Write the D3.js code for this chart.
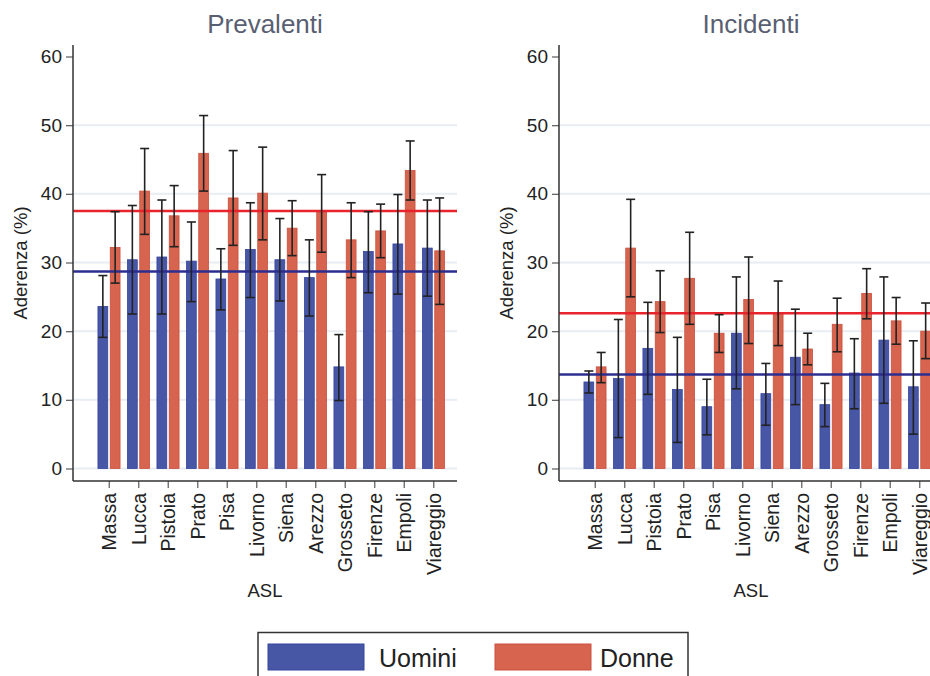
<!DOCTYPE html>
<html>
<head>
<meta charset="utf-8">
<script src="https://cdn.jsdelivr.net/npm/d3@7"></script>
<style>
	body { margin: 0; background: #fff; }
	svg { font-family: "Liberation Sans", Arial, Helvetica, sans-serif; }
</style>
</head>
<body>
<div id="chart"></div>
<script>
(function () {
	'use strict';

	var categories = ["Massa", "Lucca", "Pistoia", "Prato", "Pisa", "Livorno", "Siena", "Arezzo", "Grosseto", "Firenze", "Empoli", "Viareggio"];
	var yTicks = [0, 10, 20, 30, 40, 50, 60];
	var seriesNames = ["Uomini", "Donne"];

	// Prevalenti
	var prevUomini = [23.6, 30.4, 30.8, 30.2, 27.6, 31.9, 30.4, 27.8, 14.8, 31.6, 32.7, 32.1];
	var prevUominiLo = [19.1, 22.5, 22.5, 24.3, 23.1, 24.9, 24.4, 22.2, 9.9, 25.6, 25.4, 25.1];
	var prevUominiHi = [28.1, 38.3, 39.1, 35.9, 32.0, 38.7, 36.4, 33.3, 19.5, 37.4, 39.9, 39.1];
	var prevDonne = [32.2, 40.4, 36.8, 45.9, 39.4, 40.1, 35.0, 37.3, 33.3, 34.6, 43.4, 31.7];
	var prevDonneLo = [27.0, 34.1, 32.3, 40.4, 32.5, 33.3, 31.0, 31.5, 27.8, 30.7, 39.1, 23.9];
	var prevDonneHi = [37.4, 46.6, 41.2, 51.4, 46.3, 46.8, 39.0, 42.8, 38.7, 38.5, 47.7, 39.4];
	var prevRef = [28.7, 37.5];

	// Incidenti
	var incUomini = [12.6, 13.1, 17.5, 11.5, 9.0, 19.7, 10.9, 16.2, 9.3, 13.9, 18.7, 11.9];
	var incUominiLo = [11.0, 4.5, 10.8, 3.8, 4.9, 11.6, 6.3, 9.3, 6.1, 8.7, 9.5, 5.0];
	var incUominiHi = [14.2, 21.7, 24.2, 19.1, 13.0, 27.9, 15.3, 23.2, 12.4, 18.9, 27.9, 18.6];
	var incDonne = [14.8, 32.1, 24.3, 27.7, 19.7, 24.6, 22.7, 17.4, 21.0, 25.5, 21.5, 20.0];
	var incDonneLo = [12.5, 25.0, 19.8, 21.0, 16.9, 18.2, 17.9, 15.1, 17.0, 21.8, 18.1, 16.0];
	var incDonneHi = [16.9, 39.2, 28.8, 34.4, 22.4, 30.8, 27.3, 19.7, 24.8, 29.1, 24.9, 24.1];
	var incRef = [13.7, 22.6];

	var colors = { fill: ["#4856a6", "#d6644f"], stroke: ["#34449e", "#cc4e3c"], ref: ["#2b2e90", "#e8232b"] };

	var width = 930, height = 676;
	var svg = d3.select("#chart").append("svg")
		.attr("width", width)
		.attr("height", height);

	var y = d3.scaleLinear().domain([0, 60]).range([468.5, 56.5]);

	function panel(title, offset, vals, refs) {
		var x0 = 73 + offset, x1 = 457 + offset;
		var g = svg.append("g");

		var x = d3.scaleBand()
			.domain(categories)
			.range([x0 + 21.5, x0 + 21.5 + 12 * 29.5]);

		// gridlines
		g.selectAll("line.grid")
			.data(yTicks.filter(function (t) { return t < 60; }))
			.enter().append("line")
			.attr("x1", x0).attr("x2", x1)
			.attr("y1", function (d) { return y(d); })
			.attr("y2", function (d) { return y(d); })
			.attr("stroke", "#e7edf3")
			.attr("stroke-width", 2);

		// bars
		[0, 1].forEach(function (s) {
			g.selectAll("rect.s" + s)
				.data(vals[s].v)
				.enter().append("rect")
				.attr("x", function (d, i) { return x(categories[i]) + x.bandwidth() / 2 + (s === 0 ? -11.3 : 1); })
				.attr("width", 9.8)
				.attr("y", function (d) { return y(d); })
				.attr("height", function (d) { return y(0) - y(d); })
				.attr("fill", colors.fill[s])
				.attr("stroke", colors.stroke[s])
				.attr("stroke-width", 0.8);
		});

		// reference lines
		g.selectAll("line.ref")
			.data(refs)
			.enter().append("line")
			.attr("x1", x0).attr("x2", x1)
			.attr("y1", function (d) { return y(d); })
			.attr("y2", function (d) { return y(d); })
			.attr("stroke", function (d, i) { return colors.ref[i]; })
			.attr("stroke-width", 2.5);

		// error bars
		[0, 1].forEach(function (s) {
			var cx = function (i) { return x(categories[i]) + x.bandwidth() / 2 + (s === 0 ? -6.4 : 5.9); };
			var eg = g.selectAll("g.err" + s)
				.data(vals[s].v)
				.enter().append("g")
				.attr("stroke", "#222")
				.attr("stroke-width", 1.6);
			eg.append("line")
				.attr("x1", function (d, i) { return cx(i); })
				.attr("x2", function (d, i) { return cx(i); })
				.attr("y1", function (d, i) { return y(vals[s].lo[i]); })
				.attr("y2", function (d, i) { return y(vals[s].hi[i]); });
			[vals[s].lo, vals[s].hi].forEach(function (arr) {
				eg.append("line")
					.attr("x1", function (d, i) { return cx(i) - 4.5; })
					.attr("x2", function (d, i) { return cx(i) + 4.5; })
					.attr("y1", function (d, i) { return y(arr[i]); })
					.attr("y2", function (d, i) { return y(arr[i]); });
			});
		});

		// y axis
		var yAxis = d3.axisLeft(y).tickValues(yTicks).tickSize(7).tickPadding(4);
		var ya = g.append("g")
			.attr("transform", "translate(" + x0 + ",0)")
			.call(yAxis)
			.attr("font-family", null)
			.attr("font-size", 19);
		ya.select(".domain").remove();
		ya.selectAll(".tick line").attr("stroke", "#666").attr("stroke-width", 1.3);
		ya.selectAll("text").attr("fill", "#222");
		g.append("line")
			.attr("x1", x0).attr("x2", x0)
			.attr("y1", 45).attr("y2", 481)
			.attr("stroke", "#333").attr("stroke-width", 1.5);

		// x axis
		var xa = g.append("g")
			.attr("transform", "translate(0,481)")
			.call(d3.axisBottom(x).tickSize(7).tickPadding(5))
			.attr("font-family", null)
			.attr("font-size", 19.5);
		xa.select(".domain").remove();
		xa.selectAll(".tick line").attr("stroke", "#666").attr("stroke-width", 1.3);
		xa.selectAll("text")
			.attr("fill", "#222")
			.attr("transform", "rotate(-90)")
			.attr("text-anchor", "end")
			.attr("x", -12)
			.attr("y", 0)
			.attr("dy", "0.35em");
		g.append("line")
			.attr("x1", x0).attr("x2", x1)
			.attr("y1", 481).attr("y2", 481)
			.attr("stroke", "#333").attr("stroke-width", 1.5);

		// axis titles
		g.append("text")
			.attr("transform", "translate(" + (x0 - 46) + ",263) rotate(-90)")
			.attr("text-anchor", "middle")
			.attr("font-size", 18.5)
			.attr("fill", "#222")
			.text("Aderenza (%)");
		g.append("text")
			.attr("x", 265 + offset).attr("y", 597)
			.attr("text-anchor", "middle")
			.attr("font-size", 18.5)
			.attr("fill", "#222")
			.text("ASL");

		// panel title
		g.append("text")
			.attr("x", 265 + offset).attr("y", 33)
			.attr("text-anchor", "middle")
			.attr("font-size", 26)
			.attr("fill", "#595f72")
			.text(title);
	}

	panel("Prevalenti", 0, [
		{ v: prevUomini, lo: prevUominiLo, hi: prevUominiHi },
		{ v: prevDonne, lo: prevDonneLo, hi: prevDonneHi }
	], prevRef);
	panel("Incidenti", 486, [
		{ v: incUomini, lo: incUominiLo, hi: incUominiHi },
		{ v: incDonne, lo: incDonneLo, hi: incDonneHi }
	], incRef);

	// legend
	var lg = svg.append("g");
	lg.append("rect")
		.attr("x", 258).attr("y", 632.5)
		.attr("width", 430).attr("height", 60)
		.attr("fill", "#fff")
		.attr("stroke", "#333").attr("stroke-width", 1.5);
	var items = lg.selectAll("g.item")
		.data(seriesNames)
		.enter().append("g")
		.attr("transform", function (d, i) { return "translate(" + (268 + i * 227) + ",0)"; });
	items.append("rect")
		.attr("x", 0).attr("y", 644)
		.attr("width", 96).attr("height", 26)
		.attr("fill", function (d, i) { return colors.fill[i]; })
		.attr("stroke", function (d, i) { return colors.stroke[i]; })
		.attr("stroke-width", 1);
	items.append("text")
		.attr("x", function (d, i) { return i === 0 ? 111 : 105; })
		.attr("y", 667)
		.attr("font-size", 25)
		.attr("fill", "#222")
		.text(function (d) { return d; });
}());
</script>
</body>
</html>
